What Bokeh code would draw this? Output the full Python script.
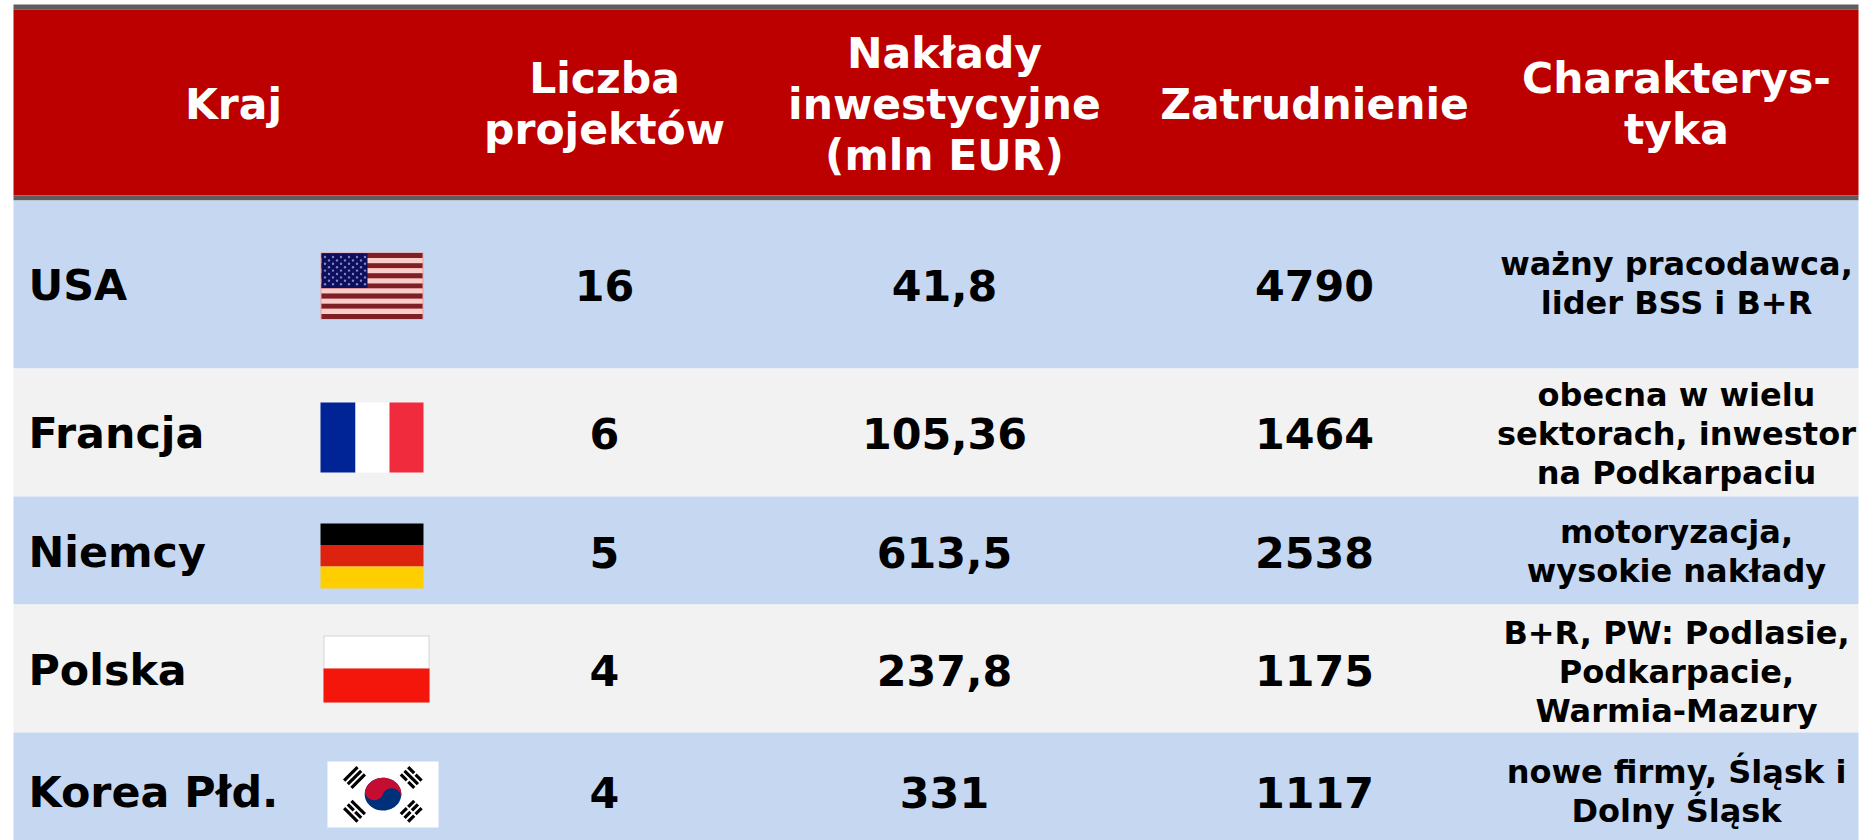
import math
from bokeh.plotting import figure
from bokeh.models import Range1d
from bokeh.core.properties import value
from bokeh.embed import file_html
from bokeh.resources import INLINE

# ---- data ----
headers = ["Kraj", "Liczba\nprojektów", "Nakłady\ninwestycyjne\n(mln EUR)", "Zatrudnienie", "Charakterys-\ntyka"]
kraje = ["USA", "Francja", "Niemcy", "Polska", "Korea Płd."]
projekty = ["16", "6", "5", "4", "4"]
naklady = ["41,8", "105,36", "613,5", "237,8", "331"]
zatrudnienie = ["4790", "1464", "2538", "1175", "1117"]
charakterystyka = [
    "ważny pracodawca,\nlider BSS i B+R",
    "obecna w wielu\nsektorach, inwestor\nna Podkarpaciu",
    "motoryzacja,\nwysokie nakłady",
    "B+R, PW: Podlasie,\nPodkarpacie,\nWarmia-Mazury",
    "nowe firmy, Śląsk i\nDolny Śląsk",
]

# ---- layout (screen pixels) ----
FONT = "DejaVu Sans"
X0, X1 = 13, 1858
row_edges = [200, 368, 496, 604, 732, 840]
row_colors = ["#c6d8f1", "#f2f2f2", "#c6d8f1", "#f2f2f2", "#c6d8f1"]
col_x = [233, 604, 944, 1314, 1676]
name_x = 28
baselines = [301, 449, 568, 686, 808]
char_first = [276, 407, 544, 645, 784]
HEAD_BASE = 120
HEAD_SIZE, ROW_SIZE, CHAR_SIZE = 42.5, 42.8, 32
HEAD_LH, CHAR_LH = 51, 39
BASE_SHIFT = 0.385  # the renderer places the baseline this many em lower

p = figure(width=1863, height=840, output_backend="svg", toolbar_location=None,
           x_range=Range1d(0, 1863), y_range=Range1d(840, 0),
           min_border=0, outline_line_color=None,
           background_fill_color="white", border_fill_color="white")
p.axis.visible = False
p.grid.visible = False


def band(y0, y1, color, x0=X0, x1=X1):
    p.quad(left=x0, right=x1, top=y0, bottom=y1, fill_color=color, line_color=None)


def label(x, y, txt, size, color="black", align="center"):
    p.text(x=[x], y=[y - BASE_SHIFT * size], text=[txt], text_font=value(FONT), text_font_style="bold",
           text_font_size=f"{size}px", text_color=color, text_align=align,
           text_baseline="alphabetic")


band(4, 9, "#5e5e5e")
band(9, 195, "#bc0000")
band(195, 200, "#5e5e5e")
for i, c in enumerate(row_colors):
    band(row_edges[i], row_edges[i + 1], c)

# header
for x, h in zip(col_x, headers):
    lines = h.split("\n")
    first = HEAD_BASE - (len(lines) - 1) * HEAD_LH / 2
    for j, line in enumerate(lines):
        label(x, first + j * HEAD_LH, line, HEAD_SIZE, "white")

# rows
for i in range(5):
    label(name_x, baselines[i], kraje[i], ROW_SIZE, align="left")
    label(col_x[1], baselines[i], projekty[i], ROW_SIZE)
    label(col_x[2], baselines[i], naklady[i], ROW_SIZE)
    label(col_x[3], baselines[i], zatrudnienie[i], ROW_SIZE)
    for j, line in enumerate(charakterystyka[i].split("\n")):
        label(col_x[4], char_first[i] + j * CHAR_LH, line, CHAR_SIZE)

# USA flag
ux0, ux1, uy0, uy1 = 320, 423, 252, 319
band(uy0, uy1, "#f29c9c", ux0, ux1)
sh = (uy1 - uy0 - 1) / 13
for k in range(13):
    color = "#7e1f25" if k % 2 == 0 else "#f9cdca"
    band(uy0 + .5 + k * sh, uy0 + .5 + (k + 1) * sh, color, ux0 + 1, ux1 - 1)
band(uy0 + 1, uy0 + 7 * sh, "#0e0e5c", ux0 + 1, ux0 + 47)
sx, sy = [], []
for r in range(9):
    n = 6 if r % 2 == 0 else 5
    for c in range(n):
        sx.append(ux0 + 4.5 + c * 8 + (4 if r % 2 else 0))
        sy.append(uy0 + 4.5 + r * 3.4)
p.scatter(sx, sy, size=2.4, fill_color="#7f86c8", line_color=None)

# France flag
band(402, 472, "#002395", 320, 355)
band(402, 472, "#ffffff", 355, 389)
band(402, 472, "#ef2b3d", 389, 423)

# Germany flag
band(523, 544.5, "#000000", 320, 423)
band(544.5, 566, "#dd2210", 320, 423)
band(566, 588, "#ffce00", 320, 423)

# Poland flag
band(635, 702, "#d4d4d4", 323, 429)
band(636, 668, "#ffffff", 324, 428)
band(668, 702, "#f4160a", 323, 429)

# Korea flag
band(761, 827, "#ffffff", 327, 438)
cx, cy, rx, ry, rot = 382.5, 793.7, 18.3, 16.4, 0.28


def taeguk(u, v):
    return (cx + rx * (u * math.cos(rot) - v * math.sin(rot)),
            cy + ry * (u * math.sin(rot) + v * math.cos(rot)))


circle = [taeguk(math.cos(t * math.pi / 30), math.sin(t * math.pi / 30)) for t in range(60)]
p.patch([q[0] for q in circle], [q[1] for q in circle], fill_color="#00307a", line_color=None)
red = []
for t in range(0, 31):  # outer arc over the top, left to right
    a = math.pi + t * math.pi / 30
    red.append(taeguk(math.cos(a), math.sin(a)))
for t in range(0, 16):  # blue bulge, right half
    a = t * math.pi / 15
    red.append(taeguk(.5 + .5 * math.cos(a), -.5 * math.sin(a)))
for t in range(0, 16):  # red bulge, left half
    a = t * math.pi / 15
    red.append(taeguk(-.5 + .5 * math.cos(a), .5 * math.sin(a)))
p.patch([q[0] for q in red], [q[1] for q in red], fill_color="#c40d30", line_color=None)

tri_cx = [354, 410.7, 354, 410.7]
tri_cy = [777, 777, 810.7, 810.7]
tri_dirs = [(1, -1), (1, 1), (1, 1), (1, -1)]
tri_breaks = [(0, 0, 0), (1, 0, 1), (0, 1, 0), (1, 1, 1)]
x0s, y0s, x1s, y1s = [], [], [], []
L, GAP = 9.5, 5.2
for mx, my, d, br in zip(tri_cx, tri_cy, tri_dirs, tri_breaks):
    ln = math.hypot(*d)
    dx, dy = d[0] / ln, d[1] / ln
    nx, ny = -dy, dx
    for b, off in zip(br, (-GAP, 0, GAP)):
        bx, by = mx + nx * off, my + ny * off
        if b:
            for s0, s1 in ((-L, -1), (1, L)):
                x0s.append(bx + dx * s0); y0s.append(by + dy * s0)
                x1s.append(bx + dx * s1); y1s.append(by + dy * s1)
        else:
            x0s.append(bx - dx * L); y0s.append(by - dy * L)
            x1s.append(bx + dx * L); y1s.append(by + dy * L)
p.segment(x0s, y0s, x1s, y1s, line_color="black", line_width=3.2, line_cap="butt")

open("out.html", "w").write(file_html(p, INLINE))
